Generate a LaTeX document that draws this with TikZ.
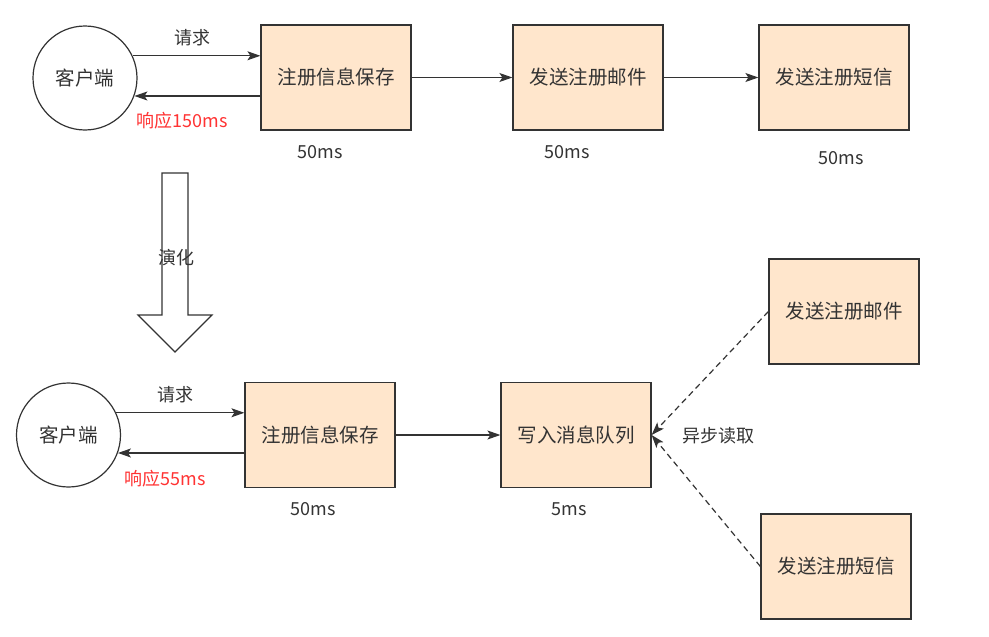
\documentclass[tikz,border=0pt]{standalone}
\usepackage{fontspec}
\setmainfont{Liberation Sans}
\newfontfamily\cjk{Noto Sans CJK SC}
\usetikzlibrary{arrows.meta,calc}
\definecolor{boxfill}{HTML}{FFE6CC}
\definecolor{linec}{HTML}{333333}
\definecolor{redtxt}{HTML}{FF3333}
\tikzset{
  box/.style={draw=linec, fill=boxfill, line width=1.2pt, minimum width=150pt, minimum height=105pt, inner sep=0pt, font=\cjk\fontsize{19.5}{21}\selectfont, text=linec},
  client/.style={draw=linec, circle, line width=1.2pt, minimum size=104pt, inner sep=0pt, font=\cjk\fontsize{19.5}{21}\selectfont, text=linec},
  lbl/.style={font=\cjk\fontsize{18}{20}\selectfont, text=linec, inner sep=0pt},
  redlbl/.style={font=\cjk\fontsize{18}{20}\selectfont, text=redtxt, inner sep=0pt},
  conn/.style={draw=linec, line width=1.2pt, -{Stealth[length=13pt,width=9pt,inset=3pt]}},
  dconn/.style={conn, dashed, dash pattern=on 6pt off 4pt},
}
\begin{document}
\begin{tikzpicture}[x=1pt,y=-1pt]
\useasboundingbox (0,0) rectangle (989,637);
% top row
\node[client] (c1) at (85,78) {客户端};
\node[box] (s1) at (336,77.5) {注册信息保存};
\node[box] (m1) at (588,77.5) {发送注册邮件};
\node[box] (t1) at (834,77.5) {发送注册短信};
\draw[conn] (c1.25) -- (c1.25 -| s1.west);
\draw[conn] (c1.-20 -| s1.west) -- (c1.-20);
\draw[conn] (s1) -- (m1);
\draw[conn] (m1) -- (t1);
\node[lbl] (q1) at (192,38) {请求};
\node[redlbl] (r1) at (182,121) {响应150ms};
\node[lbl] (d1) at (320,152) {50ms};
\node[lbl] (d2) at (567,152) {50ms};
\node[lbl] (d3) at (841,158) {50ms};
% big arrow
\draw[draw=linec, line width=1.2pt, fill=white] (162,173) -- (188,173) -- (188,315) -- (212,315) -- (175,352) -- (138,315) -- (162,315) -- cycle;
\node[lbl] (ev) at (176,258) {演化};
% bottom row
\node[client] (c2) at (68.5,435) {客户端};
\node[box] (s2) at (320,435) {注册信息保存};
\node[box] (q2) at (576,435) {写入消息队列};
\node[box] (m2) at (844,311.5) {发送注册邮件};
\node[box] (t2) at (836,566.5) {发送注册短信};
\draw[conn] (c2.25) -- (c2.25 -| s2.west);
\draw[conn] (c2.-20 -| s2.west) -- (c2.-20);
\draw[conn] (s2) -- (q2);
\draw[dconn] (m2.west) -- (q2.east);
\draw[dconn] (t2.west) -- (q2.east);
\node[lbl] (q3) at (175,395) {请求};
\node[redlbl] (r2) at (165,479) {响应55ms};
\node[lbl] (d4) at (313,509) {50ms};
\node[lbl] (d5) at (569,509) {5ms};
\node[lbl] (as) at (718,436) {异步读取};
\end{tikzpicture}
\end{document}
